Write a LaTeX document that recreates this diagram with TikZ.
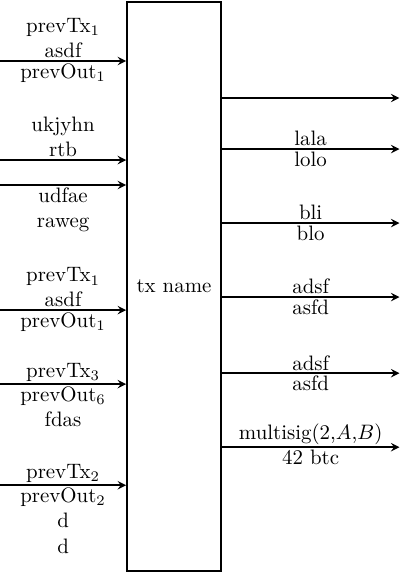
\documentclass[tikz,border=0pt]{standalone}
\begin{document}
\begin{tikzpicture}[thick, >=stealth, every node/.style={inner sep=1pt}]
  \useasboundingbox (0,0) rectangle (6.73,-9.64);
  \node[draw, minimum width=1.583cm, minimum height=9.576cm] (tx) at (2.928,-4.822) {tx name};
  \coordinate (in1) at (0,-1.027);
  \coordinate (in2) at (0,-2.693);
  \coordinate (in3) at (0,-3.113);
  \coordinate (in4) at (0,-5.217);
  \coordinate (in5) at (0,-6.463);
  \coordinate (in6) at (0,-8.163);
  \coordinate (out1) at (6.72,-1.649);
  \coordinate (out2) at (6.72,-2.508);
  \coordinate (out3) at (6.72,-3.753);
  \coordinate (out4) at (6.72,-4.998);
  \coordinate (out5) at (6.72,-6.278);
  \coordinate (out6) at (6.72,-7.523);
  \draw[->] (in1) -- node [above, align=center] {prevTx$_1$\\asdf} node [below] {prevOut$_1$} (in1 -| tx.west);
  \draw[->] (in2) -- node [above, align=center] {ukjyhn\\rtb} (in2 -| tx.west);
  \draw[->] (in3) -- node [below, align=center] {udfae\\raweg} (in3 -| tx.west);
  \draw[->] (in4) -- node [above, align=center] {prevTx$_1$\\asdf} node [below] {prevOut$_1$} (in4 -| tx.west);
  \draw[->] (in5) -- node [above] {prevTx$_3$} node [below, align=center] {prevOut$_6$\\fdas} (in5 -| tx.west);
  \draw[->] (in6) -- node [above] {prevTx$_2$} node [below, align=center] {prevOut$_2$\\d\\d} (in6 -| tx.west);
  \draw[->] (out1 -| tx.east) -- (out1);
  \draw[->] (out2 -| tx.east) -- node [above] {lala} node [below] {lolo} (out2);
  \draw[->] (out3 -| tx.east) -- node [above] {bli} node [below] {blo} (out3);
  \draw[->] (out4 -| tx.east) -- node [above] {adsf} node [below] {asfd} (out4);
  \draw[->] (out5 -| tx.east) -- node [above] {adsf} node [below] {asfd} (out5);
  \draw[->] (out6 -| tx.east) -- node [above] {multisig(2,$A$,$B$)} node [below] {42 btc} (out6);
\end{tikzpicture}
\end{document}
